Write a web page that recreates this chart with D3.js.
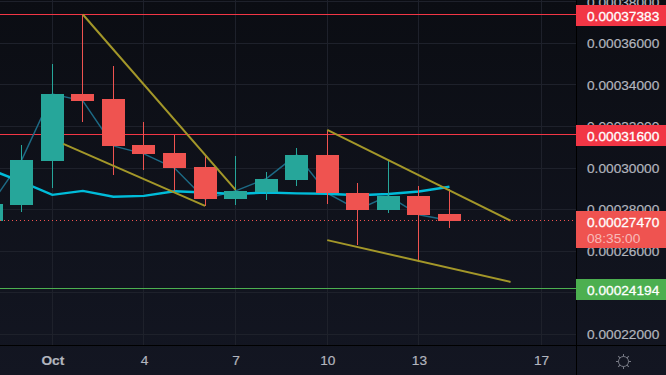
<!DOCTYPE html>
<html>
<head>
<meta charset="utf-8">
<script src="https://cdn.jsdelivr.net/npm/d3@7"></script>
<style>
    html, body { margin: 0; padding: 0; background: #0e1018; overflow: hidden; }
    text { font-family: "Liberation Sans", sans-serif; }
</style>
</head>
<body>
<svg id="chart" width="666" height="375"></svg>
<script>
// days are counted from Oct 1, so 0 is Sep 30 and -1 is Sep 29
const days   = [-1, 0, 1, 2, 3, 4, 5, 6, 7, 8, 9, 10, 11, 12, 13, 14];
const opens  = [0.0002747, 0.0002823, 0.0003034, 0.0003356, 0.0003332, 0.0003111, 0.0003073, 0.0003005, 0.0002851, 0.0002885, 0.0002943, 0.0003063, 0.000288, 0.0002799, 0.0002866, 0.000278];
const highs  = [0.000289, 0.0003111, 0.00035, 0.00037383, 0.0003491, 0.0003222, 0.000316, 0.0003063, 0.0003058, 0.0002981, 0.0003097, 0.0003183, 0.0002928, 0.0003036, 0.0002914, 0.00029];
const lows   = [0.00027, 0.0002786, 0.0002904, 0.0003223, 0.0002968, 0.0002991, 0.000289, 0.0002818, 0.0002823, 0.0002847, 0.0002914, 0.0002829, 0.000263, 0.0002784, 0.000255, 0.0002712];
const closes = [0.0002827, 0.0003039, 0.0003356, 0.0003323, 0.0003106, 0.0003068, 0.0003, 0.0002851, 0.000289, 0.0002948, 0.0003063, 0.0002879, 0.0002799, 0.0002866, 0.0002775, 0.0002747];
const maValues = [0.0002991, 0.0002933, 0.0002871, 0.000289, 0.0002862, 0.0002866, 0.0002888, 0.0002882, 0.0002875, 0.0002882, 0.0002878, 0.0002876, 0.0002869, 0.0002875, 0.0002887, 0.000291];

const yTicks = [0.00022, 0.00024, 0.00026, 0.00028, 0.0003, 0.00032, 0.00034, 0.00036, 0.00038];
const xTicks = [1, 4, 7, 10, 13, 17];

// drawn trend lines as [day, price] pairs
const trendLines = [
    [[2, 0.00037383], [7, 0.0002895]],
    [[1.36, 0.0003116], [6, 0.0002818]],
    [[10, 0.0003183], [16, 0.0002747]],
    [[10, 0.0002653], [16, 0.0002452]]
];

const lastPrice = 0.0002747;
const countdown = "08:35:00";
const priceLines = [
    {value: 0.00037383, color: "#f23645"},
    {value: 0.000316, color: "#f23645"},
    {value: 0.00024194, color: "#4caf50"}
];

const width = 666, height = 375;
const plotRight = 576, plotBottom = 345;
const up = "#26a69a", down = "#ef5350";

let svg = d3.select("#chart");

let x = d3.scaleLinear().domain([1, 17]).range([52.3, 541.1]);
let y = d3.scaleLinear().domain([0.00022, 0.00038]).range([334.3, 1.7]);
let crisp = v => Math.floor(v) + 0.5;

// Background
let defs = svg.append("defs");
let grad = defs.append("linearGradient").attr("id", "bg")
    .attr("x1", 0).attr("x2", 0).attr("y1", 0).attr("y2", 1);
grad.append("stop").attr("offset", "0%").attr("stop-color", "#0b0d13");
grad.append("stop").attr("offset", "100%").attr("stop-color", "#131622");
defs.append("clipPath").attr("id", "plot").append("rect")
    .attr("width", plotRight).attr("height", plotBottom);

svg.append("rect").attr("width", width).attr("height", height).attr("fill", "url(#bg)");

// Grid
let grid = svg.append("g").attr("shape-rendering", "crispEdges").attr("stroke", "#1e212b");
grid.selectAll(".h").data(yTicks).enter().append("line")
    .attr("x1", 0).attr("x2", plotRight)
    .attr("y1", d => crisp(y(d))).attr("y2", d => crisp(y(d)));
grid.selectAll(".v").data(xTicks).enter().append("line")
    .attr("y1", 0).attr("y2", plotBottom)
    .attr("x1", d => crisp(x(d))).attr("x2", d => crisp(x(d)));

let plot = svg.append("g").attr("clip-path", "url(#plot)");

// Price lines
plot.selectAll(".price-line").data(priceLines).enter().append("line")
    .attr("x1", 0).attr("x2", plotRight)
    .attr("y1", d => crisp(y(d.value))).attr("y2", d => crisp(y(d.value)))
    .attr("stroke", d => d.color)
    .attr("shape-rendering", "crispEdges");

// Close line and moving average
let line = d3.line().x((d, i) => x(days[i])).y(d => y(d));
plot.append("path").attr("d", line(closes))
    .attr("fill", "none").attr("stroke", "#1d6a85").attr("stroke-width", 1.5);
plot.append("path").attr("d", line(maValues))
    .attr("fill", "none").attr("stroke", "#00bcd9").attr("stroke-width", 2.4);

// Candles
let candles = plot.selectAll(".candle").data(days).enter().append("g")
    .attr("shape-rendering", "crispEdges");
let candleColor = i => closes[i] >= opens[i] ? up : down;
candles.append("line")
    .attr("x1", d => crisp(x(d))).attr("x2", d => crisp(x(d)))
    .attr("y1", (d, i) => y(highs[i])).attr("y2", (d, i) => y(lows[i]))
    .attr("stroke", (d, i) => candleColor(i));
candles.append("rect")
    .attr("x", d => Math.floor(x(d)) - 11).attr("width", 23)
    .attr("y", (d, i) => y(Math.max(opens[i], closes[i])))
    .attr("height", (d, i) => Math.abs(y(opens[i]) - y(closes[i])))
    .attr("fill", (d, i) => candleColor(i));

// Trend lines
plot.selectAll(".trend").data(trendLines).enter().append("line")
    .attr("x1", d => x(d[0][0])).attr("y1", d => y(d[0][1]))
    .attr("x2", d => x(d[1][0])).attr("y2", d => y(d[1][1]))
    .attr("stroke", "#a39729").attr("stroke-width", 2);

// Last price dotted line
plot.append("line")
    .attr("x1", 0).attr("x2", plotRight)
    .attr("y1", crisp(y(lastPrice))).attr("y2", crisp(y(lastPrice)))
    .attr("stroke", down).attr("stroke-dasharray", "1 3")
    .attr("shape-rendering", "crispEdges");

// Axes
let yAxis = svg.append("g").attr("transform", `translate(${plotRight},0)`)
    .call(d3.axisRight(y).tickValues(yTicks).tickSize(0).tickPadding(11).tickFormat(d3.format(".8f")));
let xAxis = svg.append("g").attr("transform", `translate(0,${plotBottom})`)
    .call(d3.axisBottom(x).tickValues(xTicks).tickSize(0).tickPadding(10).tickFormat(d => d === 1 ? "Oct" : d));
yAxis.select(".domain").remove();
xAxis.select(".domain").remove();
yAxis.selectAll("text").attr("fill", "#b2b5be").attr("stroke", "#b2b5be").attr("stroke-width", 0.2)
    .attr("font-size", 13.7).attr("font-family", "Liberation Sans");
xAxis.selectAll("text").attr("fill", "#b2b5be").attr("stroke", "#b2b5be").attr("stroke-width", 0.2)
    .attr("font-size", 13.7).attr("font-family", "Liberation Sans")
    .attr("font-weight", d => d === 1 ? "bold" : "normal");

// Dividers between plot and axes
svg.append("line").attr("x1", 0).attr("x2", width).attr("y1", plotBottom + 0.5).attr("y2", plotBottom + 0.5)
    .attr("stroke", "#000").attr("shape-rendering", "crispEdges");
svg.append("line").attr("x1", plotRight + 0.5).attr("x2", plotRight + 0.5).attr("y1", 0).attr("y2", height)
    .attr("stroke", "#000").attr("shape-rendering", "crispEdges");

// Price labels on the axis
let labels = svg.selectAll(".price-label").data(priceLines).enter().append("g")
    .attr("transform", d => `translate(${plotRight},${Math.round(y(d.value)) - 10})`);
labels.append("rect").attr("width", width - plotRight).attr("height", 21).attr("fill", d => d.color);
labels.append("text").attr("x", 11).attr("y", 15.5).attr("fill", "#fff")
    .attr("stroke", "#fff").attr("stroke-width", 0.3)
    .attr("font-size", 13.7).text(d => d3.format(".8f")(d.value));

let last = svg.append("g").attr("transform", `translate(${plotRight},211)`);
last.append("rect").attr("width", width - plotRight).attr("height", 37).attr("fill", down);
last.append("text").attr("x", 11).attr("y", 15.5).attr("fill", "#fff")
    .attr("stroke", "#fff").attr("stroke-width", 0.3)
    .attr("font-size", 13.7).text(d3.format(".8f")(lastPrice));
last.append("text").attr("x", 11).attr("y", 31.5).attr("fill", "#fff").attr("fill-opacity", 0.6)
    .attr("font-size", 13.7).text(countdown);

// Settings icon
let gear = svg.append("g").attr("transform", "translate(623.5,361.5)")
    .attr("fill", "none").attr("stroke", "#787b86");
gear.append("circle").attr("r", 5);
gear.selectAll("line").data(d3.range(0, 360, 45)).enter().append("line")
    .attr("y1", -5).attr("y2", -7.5)
    .attr("transform", d => `rotate(${d})`);
</script>
</body>
</html>
